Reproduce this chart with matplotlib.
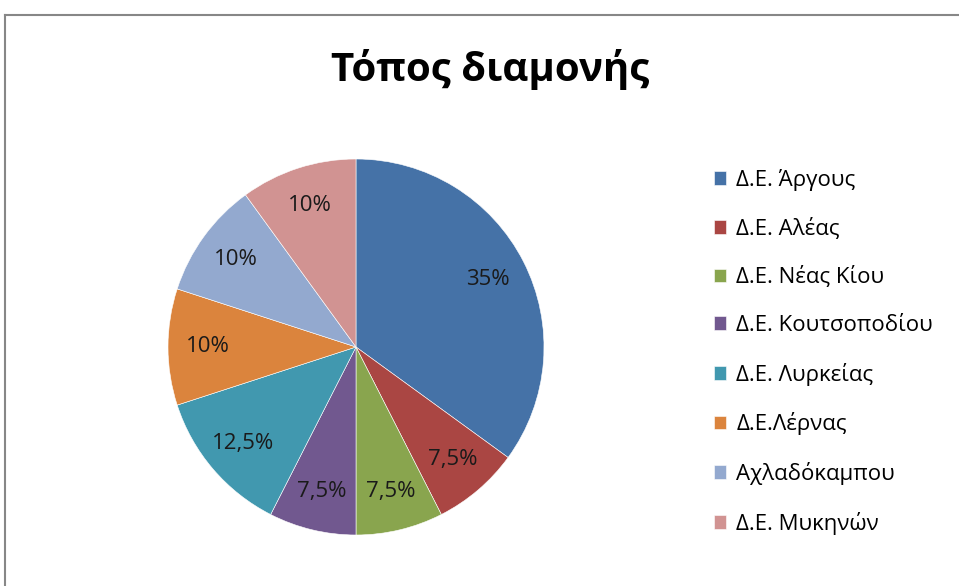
import matplotlib.pyplot as plt
from matplotlib.lines import Line2D

# δεδομένα
perioxes = ["Δ.Ε. Άργους", "Δ.Ε. Αλέας", "Δ.Ε. Νέας Κίου", "Δ.Ε. Κουτσοποδίου",
            "Δ.Ε. Λυρκείας", "Δ.Ε.Λέρνας", "Αχλαδόκαμπου", "Δ.Ε. Μυκηνών"]
pososta = [35, 7.5, 7.5, 7.5, 12.5, 10, 10, 10]
xromata = ["#4572A7", "#AA4643", "#89A54E", "#71588F",
           "#4198AF", "#DB843D", "#93A9CF", "#D19392"]
titlos = "Τόπος διαμονής"

plt.rcParams['font.family'] = ['Open Sans', 'DejaVu Sans']

W, H = 959, 586
fig = plt.figure(figsize=(W / 100, H / 100), dpi=100)

# πλαίσιο γραφήματος
fig.add_artist(Line2D([5 / W, 1], [1 - 15 / H, 1 - 15 / H], color="#878787", lw=1.5))
fig.add_artist(Line2D([5 / W, 5 / W], [1 - 15 / H, 0], color="#878787", lw=1.5))

cx, cy, r = 356, 347, 188
ax = fig.add_axes([(cx - r) / W, (H - cy - r) / H, 2 * r / W, 2 * r / H])


def pososto(p):
    return f"{p:g}".replace(".", ",") + "%"


wedges, texts, autotexts = ax.pie(
    pososta, colors=xromata, startangle=90, counterclock=False,
    autopct=pososto, pctdistance=0.79,
    wedgeprops=dict(edgecolor="white", linewidth=0.4),
    textprops=dict(fontsize=16, color="#1a1a1a"))
ax.set_xlim(-1, 1)
ax.set_ylim(-1, 1)
ax.set_aspect("equal")

fig.text(490 / W, 1 - 70 / H, titlos, ha="center", va="center",
         fontsize=29, fontweight="bold")

fig.legend(wedges, perioxes, loc="upper left",
           bbox_to_anchor=(694 / W, 1 - 149 / H), frameon=False,
           fontsize=16, handlelength=0.55, handleheight=0.55,
           handletextpad=0.45, labelspacing=1.2)

plt.savefig("out.png", dpi=100)
